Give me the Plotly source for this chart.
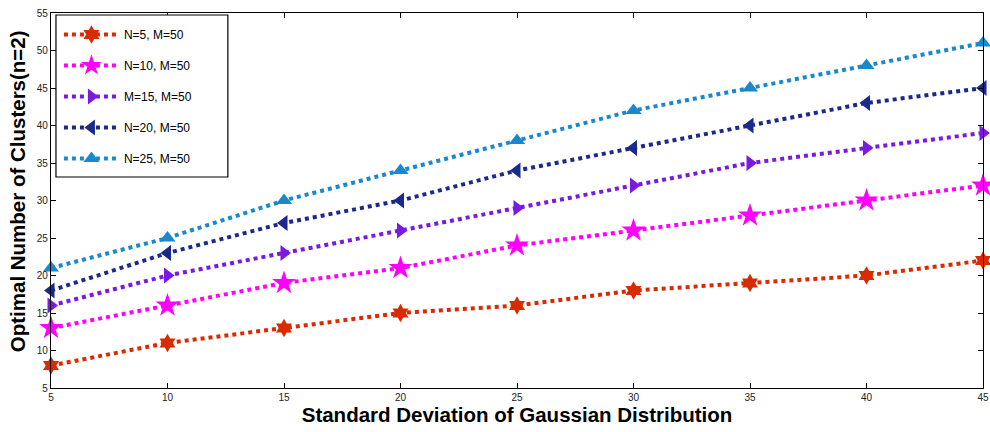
import plotly.graph_objects as go

x_vals = [5, 10, 15, 20, 25, 30, 35, 40, 45]
n5 = [8, 11, 13, 15, 16, 18, 19, 20, 22]
n10 = [13, 16, 19, 21, 24, 26, 28, 30, 32]
m15 = [16, 20, 23, 26, 29, 32, 35, 37, 39]
n20 = [18, 23, 27, 30, 34, 37, 40, 43, 45]
n25 = [21, 25, 30, 34, 38, 42, 45, 48, 51]

names = ["N=5, M=50", "N=10, M=50", "M=15, M=50", "N=20, M=50", "N=25, M=50"]
series = [n5, n10, m15, n20, n25]
colors = ["#D92B00", "#FF00FF", "#7A1AE0", "#1A2A8A", "#1A88CC"]
symbols = ["hexagram", "star", "triangle-right", "triangle-left", "triangle-up"]
sizes = [14, 18, 14, 14, 14]

W, H = 990, 432
ML, MR, MT, MB = 51, 1, 13, 44
PW, PH = W - ML - MR, H - MT - MB

def px_x(p):
    return (p - ML) / PW

def px_y(p):
    return (H - MB - p) / PH

fig = go.Figure()
for i, (nm, ys, c, s, sz) in enumerate(zip(names, series, colors, symbols, sizes)):
    fig.add_trace(go.Scatter(
        x=x_vals, y=ys, name=nm, mode="lines+markers",
        legendgroup=f"g{i}", cliponaxis=False,
        line=dict(color=c, width=4, dash="dot"),
        marker=dict(symbol=s, size=sz, color=c, line=dict(width=0)),
    ))

axis_common = dict(
    showline=True, linecolor="black", linewidth=1.2, mirror="ticks",
    ticks="inside", ticklen=5, tickcolor="black", showgrid=False, zeroline=False,
    ticklabeloverflow="allow",
    tickfont=dict(family="Arial, Liberation Sans", size=10, color="#222"),
)

fig.update_layout(
    width=W, height=H,
    margin=dict(l=ML, r=MR, t=MT, b=MB),
    paper_bgcolor="white", plot_bgcolor="white",
    font=dict(family="Arial, Liberation Sans", color="black"),
    xaxis=dict(range=[5, 45], tickvals=x_vals, ticktext=[str(v) for v in x_vals],
               title=dict(text="<b>Standard Deviation of Gaussian Distribution</b>",
                          font=dict(size=20.5), standoff=3),
               **axis_common),
    yaxis=dict(range=[5, 55], dtick=5, tick0=5, **axis_common),
    legend=dict(x=px_x(59), y=px_y(20), xanchor="left", yanchor="top",
                bgcolor="rgba(0,0,0,0)", borderwidth=0,
                font=dict(size=12, family="Arial, Liberation Sans"),
                tracegroupgap=12, itemwidth=55),
    showlegend=True,
    shapes=[dict(type="rect", xref="paper", yref="paper", layer="above",
                 x0=px_x(56), x1=px_x(229), y0=px_y(177), y1=px_y(15),
                 line=dict(color="black", width=1.2), fillcolor="white")],
    annotations=[dict(text="<b>Optimal Number of Clusters(n=2)</b>", textangle=-90,
                      xref="paper", yref="paper", x=px_x(17), y=px_y(191),
                      xanchor="center", yanchor="middle", showarrow=False,
                      font=dict(size=20.5))],
)

fig.write_html("out.html")
